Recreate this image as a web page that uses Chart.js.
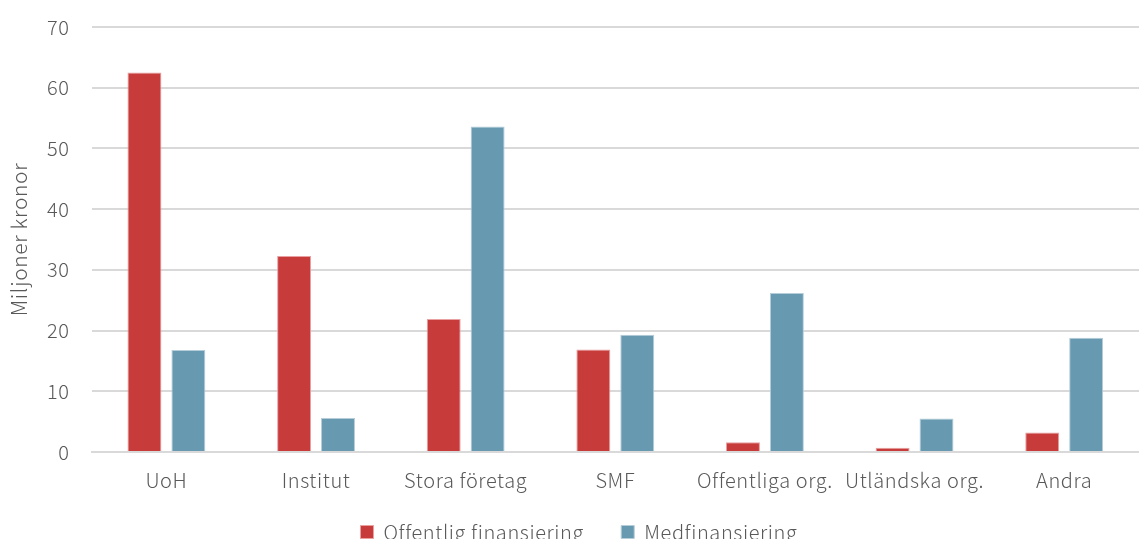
<!DOCTYPE html>
<html><head><meta charset="utf-8">
<script src="https://cdn.jsdelivr.net/npm/chart.js@4"></script>
<style>
html,body{margin:0;padding:0;overflow:hidden;background:#fff;width:1139px;height:539px;}
#wrap{position:relative;width:1139px;height:552px;}
</style></head>
<body>
<div id="wrap"><canvas id="c"></canvas></div>
<script>
const categories = ["UoH","Institut","Stora företag","SMF","Offentliga org.","Utländska org.","Andra"];
const offentlig = [62.5, 32.3, 21.9, 16.9, 1.6, 0.7, 3.2];
const medfinansiering = [16.8, 5.6, 53.6, 19.3, 26.2, 5.5, 18.8];
const seriesNames = ["Offentlig finansiering","Medfinansiering"];
const yTicks = [0,10,20,30,40,50,60,70];

const FONT = "'Noto Sans CJK JP','Noto Sans',sans-serif";
const TXT = '#595959';
const LS = '0.6px';
const spacing = {
  id:'spacing',
  beforeUpdate(c){c.ctx.letterSpacing=LS;},
  beforeLayout(c){c.ctx.letterSpacing=LS;},
  afterLayout(c){ if(c.legend){c.legend.left+=5; c.legend.right+=5;} },
  beforeDraw(c){c.ctx.letterSpacing=LS;}
};
new Chart(document.getElementById('c'), {
  type: 'bar',
  plugins:[spacing],
  data: {
    labels: categories,
    datasets: [
      {label: seriesNames[0], data: offentlig, backgroundColor:'#C83B3B', borderColor:'#E8A0A0', borderWidth:1, categoryPercentage:0.587, barPercentage:0.773},
      {label: seriesNames[1], data: medfinansiering, backgroundColor:'#6799B0', borderColor:'#B5CDD9', borderWidth:1, categoryPercentage:0.587, barPercentage:0.773}
    ]
  },
  options: {
    responsive:true, maintainAspectRatio:false, animation:false,
    layout:{autoPadding:false, padding:{top:22,right:0,left:9,bottom:0}},
    plugins:{
      tooltip:{enabled:false},
      legend:{position:'bottom', labels:{font:{family:FONT,size:20,weight:300}, color:TXT, boxWidth:13, boxHeight:13, padding:22,
        generateLabels:(chart)=>{const items=Chart.defaults.plugins.legend.labels.generateLabels(chart); items[0].text=items[0].text+'\u2002\u2009'; return items;}}}
    },
    scales:{
      x:{grid:{display:false}, border:{display:true,color:'#d9d9d9',width:2},
         ticks:{font:{family:FONT,size:20,weight:300}, color:TXT, padding:8, maxRotation:0, autoSkip:false}},
      y:{min:0,max:70, afterBuildTicks:(ax)=>{ax.ticks=yTicks.map(v=>({value:v}));},
         grid:{color:'#d9d9d9', lineWidth:2, drawTicks:false}, border:{display:false},
         ticks:{font:{family:FONT,size:20,weight:300,lineHeight:0.5}, color:TXT, padding:22},
         title:{display:true,text:'Miljoner kronor', font:{family:FONT,size:21,weight:300,lineHeight:1.0}, color:TXT, padding:{top:0,bottom:-5}}}
    }
  }
});
</script>
</body></html>
